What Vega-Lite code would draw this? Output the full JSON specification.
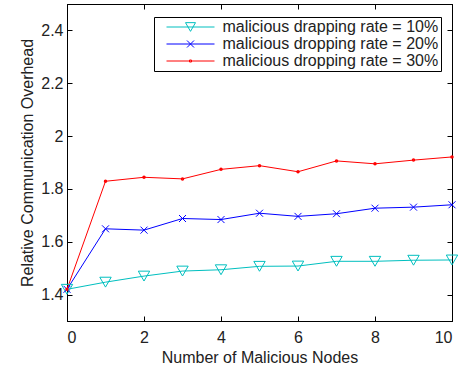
{
  "$schema": "https://vega.github.io/schema/vega-lite/v6.json",
  "width": 385,
  "height": 317,
  "autosize": {"type": "none"},
  "padding": {"left": 67, "top": 4, "right": 12, "bottom": 47},
  "background": "white",
  "config": {
    "font": "Liberation Sans",
    "view": {"stroke": "black", "strokeWidth": 1},
    "axis": {
      "grid": false,
      "labelFont": "Liberation Sans",
      "titleFont": "Liberation Sans",
      "labelFontSize": 16,
      "titleFontSize": 16,
      "titleFontWeight": "normal",
      "labelColor": "#222222",
      "titleColor": "#222222",
      "domainColor": "black",
      "domainWidth": 1,
      "tickColor": "black",
      "tickWidth": 1,
      "tickSize": -5
    },
    "legend": {"labelFont": "Liberation Sans", "labelFontSize": 16}
  },
  "data": {
    "values": [
      {"x": 0, "y": 1.42, "s": "malicious drapping rate = 10%"},
      {"x": 1, "y": 1.447, "s": "malicious drapping rate = 10%"},
      {"x": 2, "y": 1.47, "s": "malicious drapping rate = 10%"},
      {"x": 3, "y": 1.489, "s": "malicious drapping rate = 10%"},
      {"x": 4, "y": 1.494, "s": "malicious drapping rate = 10%"},
      {"x": 5, "y": 1.507, "s": "malicious drapping rate = 10%"},
      {"x": 6, "y": 1.508, "s": "malicious drapping rate = 10%"},
      {"x": 7, "y": 1.526, "s": "malicious drapping rate = 10%"},
      {"x": 8, "y": 1.526, "s": "malicious drapping rate = 10%"},
      {"x": 9, "y": 1.53, "s": "malicious drapping rate = 10%"},
      {"x": 10, "y": 1.531, "s": "malicious drapping rate = 10%"},
      {"x": 0, "y": 1.42, "s": "malicious dropping rate = 20%"},
      {"x": 1, "y": 1.649, "s": "malicious dropping rate = 20%"},
      {"x": 2, "y": 1.644, "s": "malicious dropping rate = 20%"},
      {"x": 3, "y": 1.688, "s": "malicious dropping rate = 20%"},
      {"x": 4, "y": 1.684, "s": "malicious dropping rate = 20%"},
      {"x": 5, "y": 1.708, "s": "malicious dropping rate = 20%"},
      {"x": 6, "y": 1.696, "s": "malicious dropping rate = 20%"},
      {"x": 7, "y": 1.706, "s": "malicious dropping rate = 20%"},
      {"x": 8, "y": 1.727, "s": "malicious dropping rate = 20%"},
      {"x": 9, "y": 1.731, "s": "malicious dropping rate = 20%"},
      {"x": 10, "y": 1.74, "s": "malicious dropping rate = 20%"},
      {"x": 0, "y": 1.42, "s": "malicious dropping rate = 30%"},
      {"x": 1, "y": 1.829, "s": "malicious dropping rate = 30%"},
      {"x": 2, "y": 1.844, "s": "malicious dropping rate = 30%"},
      {"x": 3, "y": 1.838, "s": "malicious dropping rate = 30%"},
      {"x": 4, "y": 1.874, "s": "malicious dropping rate = 30%"},
      {"x": 5, "y": 1.888, "s": "malicious dropping rate = 30%"},
      {"x": 6, "y": 1.865, "s": "malicious dropping rate = 30%"},
      {"x": 7, "y": 1.906, "s": "malicious dropping rate = 30%"},
      {"x": 8, "y": 1.895, "s": "malicious dropping rate = 30%"},
      {"x": 9, "y": 1.909, "s": "malicious dropping rate = 30%"},
      {"x": 10, "y": 1.921, "s": "malicious dropping rate = 30%"}
    ]
  },
  "encoding": {
    "color": {
      "field": "s",
      "type": "nominal",
      "scale": {
        "domain": ["malicious drapping rate = 10%", "malicious dropping rate = 20%", "malicious dropping rate = 30%"],
        "range": ["#00BFBF", "#0000FF", "#FF0000"]
      },
      "legend": {
        "title": null,
        "orient": "none",
        "legendX": 87,
        "legendY": 13,
        "fillColor": "white",
        "strokeColor": "black",
        "padding": 2,
        "cornerRadius": 0,
        "symbolSize": 100,
        "symbolStrokeWidth": 1,
        "symbolFillColor": "transparent",
        "symbolOffset": 26.5,
        "labelOffset": 24,
        "labelAlign": "left",
        "rowPadding": 1,
        "labelFont": "Liberation Sans",
        "labelFontSize": 16,
        "labelColor": "#222222",
        "labelLimit": 400,
        "encode": {
          "symbols": {
            "update": {
              "shape": {"signal": "datum.value === 'malicious drapping rate = 10%' ? 'M-4.8,0H4.8M-1,-0.87H1L0,0.87Z' : datum.value === 'malicious dropping rate = 20%' ? 'M-4.8,0H4.8M-0.7,-0.7L0.7,0.7M-0.7,0.7L0.7,-0.7' : 'M-4.8,0H4.8M-0.2,-0.2H0.2V0.2H-0.2Z'"},
              "fill": {"value": "transparent"},
              "strokeWidth": {"value": 1},
              "size": {"value": 100}
            }
          }
        }
      }
    }
  },
  "layer": [
    {
      "mark": {"type": "line", "strokeWidth": 1},
      "encoding": {
        "x": {
          "field": "x", "type": "quantitative",
          "scale": {"domain": [0, 10], "nice": false, "zero": false},
          "axis": {"orient": "bottom", "values": [0, 2, 4, 6, 8, 10], "format": "d", "title": "Number of Malicious Nodes", "labelPadding": 13, "titleY": 28, "titleBaseline": "top"}
        },
        "y": {
          "field": "y", "type": "quantitative",
          "scale": {"domain": [1.3, 2.5], "nice": false, "zero": false},
          "axis": {"orient": "left", "values": [1.4, 1.6, 1.8, 2, 2.2, 2.4], "format": "~r", "title": "Relative Communication Overhead", "labelPadding": 9, "titleX": -32, "titleBaseline": "bottom"}
        }
      }
    },
    {
      "transform": [{"filter": "datum.s === 'malicious drapping rate = 10%'"}],
      "mark": {"type": "point", "shape": "triangle-down", "size": 130, "filled": false, "strokeWidth": 1, "opacity": 1},
      "encoding": {
        "x": {"field": "x", "type": "quantitative", "axis": {"orient": "top", "values": [0, 2, 4, 6, 8, 10], "labels": false, "title": null}},
        "y": {"field": "y", "type": "quantitative", "axis": {"orient": "right", "values": [1.4, 1.6, 1.8, 2, 2.2, 2.4], "labels": false, "title": null}}
      }
    },
    {
      "transform": [{"filter": "datum.s === 'malicious dropping rate = 20%'"}],
      "mark": {"type": "point", "shape": "M-1,-1L1,1M-1,1L1,-1", "size": 49, "filled": false, "strokeWidth": 1, "opacity": 1},
      "encoding": {
        "x": {"field": "x", "type": "quantitative", "axis": null},
        "y": {"field": "y", "type": "quantitative", "axis": null}
      }
    },
    {
      "transform": [{"filter": "datum.s === 'malicious dropping rate = 30%'"}],
      "mark": {"type": "point", "shape": "circle", "size": 4, "filled": false, "strokeWidth": 1.5, "opacity": 1},
      "encoding": {
        "x": {"field": "x", "type": "quantitative", "axis": null},
        "y": {"field": "y", "type": "quantitative", "axis": null}
      }
    }
  ],
  "resolve": {"axis": {"x": "independent", "y": "independent"}}
}
